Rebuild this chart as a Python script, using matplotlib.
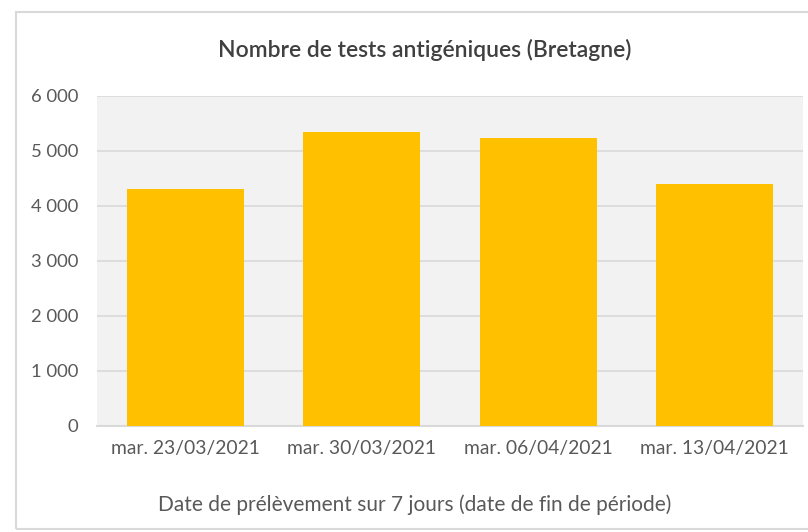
import matplotlib
matplotlib.use("Agg")
import matplotlib.pyplot as plt
from matplotlib.patches import Rectangle
from matplotlib.ticker import FuncFormatter

# data
categories = ["mar. 23/03/2021", "mar. 30/03/2021", "mar. 06/04/2021", "mar. 13/04/2021"]
tests = [4300, 5330, 5225, 4390]
y_ticks = [0, 1000, 2000, 3000, 4000, 5000, 6000]

BAR = "#FFC000"
BG = "#F2F2F2"
GRID = "#D9D9D9"
TEXT = "#595959"

plt.rcParams["font.family"] = ["Lato", "DejaVu Sans"]

fig = plt.figure(figsize=(8.08, 5.32), dpi=100)
fig.patch.set_facecolor("white")

# outer chart frame (right edge runs off the canvas)
fig.patches.append(Rectangle((16 / 808, 3 / 532), 1.05, 517 / 532, transform=fig.transFigure,
                             fill=False, edgecolor="#D9D9D9", lw=1.5))

ax = fig.add_axes([97 / 808, 1 - 426 / 532, 706 / 808, 330.4 / 532])
ax.set_facecolor(BG)
ax.bar(range(len(categories)), tests, width=0.665, color=BAR, zorder=3)

ax.set_xlim(-0.5, len(categories) - 0.5)
ax.set_ylim(0, 6000)
ax.set_yticks(y_ticks)
ax.yaxis.set_major_formatter(FuncFormatter(lambda v, p: f"{int(v):,}".replace(",", " ")))
ax.set_xticks(range(len(categories)))
ax.set_xticklabels(categories)
ax.grid(axis="y", color=GRID, lw=1.2, zorder=0)
for s in ["top", "right", "left"]:
    ax.spines[s].set_visible(False)
ax.spines["bottom"].set_color(GRID)
ax.spines["bottom"].set_linewidth(1.5)
ax.tick_params(axis="both", length=0, colors=TEXT)
ax.tick_params(axis="y", pad=13.5, labelsize=13.3)
ax.tick_params(axis="x", pad=10, labelsize=13.9)

fig.text(425 / 808, 1 - 50 / 532, "Nombre de tests antigéniques (Bretagne)",
         ha="center", va="center", fontsize=16.5, fontweight="semibold", color="#404040")
fig.text(415 / 808, 1 - 505 / 532, "Date de prélèvement sur 7 jours (date de fin de période)",
         ha="center", va="center", fontsize=15, color=TEXT)

fig.savefig("out.png", dpi=100, facecolor="white")
